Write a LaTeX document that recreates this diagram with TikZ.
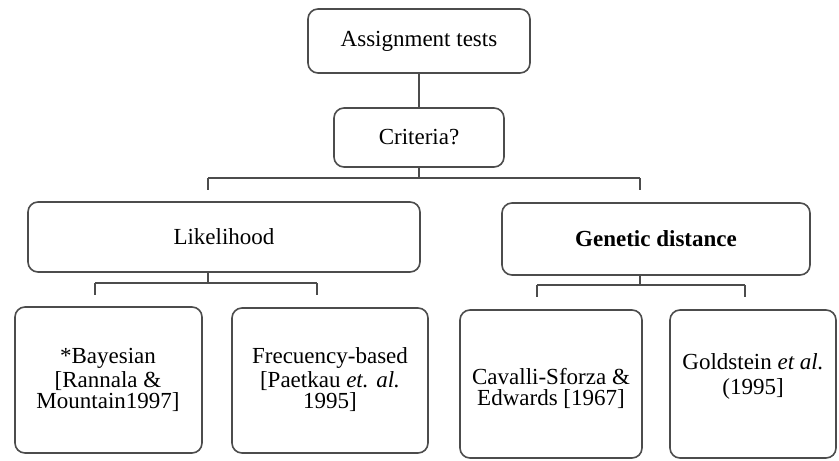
\documentclass[tikz,border=0pt]{standalone}
\usepackage{fontspec}
\setmainfont{Liberation Serif}
\usepackage{tikz}

\tikzset{
    box/.style={draw=black!70, line width=0.8pt, rounded corners=5pt, align=center, inner sep=0pt},
    lbl/.style={align=center, inner sep=1pt},
    conn/.style={draw=black!70, line width=0.8pt},
}

\begin{document}
\begin{tikzpicture}[x=0.5pt, y=-0.5pt, font=\fontsize{11.5}{10.5}\selectfont]
    \useasboundingbox (0,0) rectangle (839,460);
    % top levels
    \node[box, minimum width=111pt, minimum height=32pt] (assign) at (419,41) {Assignment tests};
    \node[box, minimum width=85pt, minimum height=29.5pt] (crit) at (419,137.5) {Criteria?};
    % second level
    \node[box, minimum width=196pt, minimum height=35pt] (lik) at (224,237) {Likelihood};
    \node[box, minimum width=154pt, minimum height=36pt] (gen) at (656,239) {\textbf{Genetic distance}};
    % leaves
    \node[box, minimum width=93.5pt, minimum height=73pt] (bay) at (108.5,380) {};
    \node[box, minimum width=98pt, minimum height=72.5pt] (freq) at (330,380.5) {};
    \node[box, minimum width=91pt, minimum height=74pt] (cav) at (551,384) {};
    \node[box, minimum width=83pt, minimum height=74pt] (gold) at (753,384) {};
    \node[lbl] (bayA) at (108,358) {*Bayesian};
    \node[lbl] (bayB) at (108,392) {[Rannala \&\\Mountain1997]};
    \node[lbl] (freqA) at (330,358) {Frecuency-based};
    \node[lbl] (freqB) at (330,392) {[Paetkau \textit{et. al.}\\1995]};
    \node[lbl] (cavA) at (551,388) {Cavalli-Sforza \&\\Edwards [1967]};
    \node[lbl] (goldA) at (753,376) {Goldstein \textit{et al.}\\[2pt](1995]};
    % connectors
    \coordinate (busL) at (208,178);
    \coordinate (busR) at (640,178);
    \coordinate (likL) at (95,283);
    \coordinate (likR) at (317,283);
    \coordinate (genL) at (537,285);
    \coordinate (genR) at (745,285);
    \draw[conn] (assign.south) -- (crit.north);
    \draw[conn] (crit.south) -- (crit.south |- busL);
    \draw[conn] (busL) -- (busR);
    \draw[conn] (busL) -- ++(0,12);
    \draw[conn] (busR) -- ++(0,12);
    \draw[conn] (lik.south -| busL) -- (busL |- likL);
    \draw[conn] (likL) -- (likR);
    \draw[conn] (likL) -- ++(0,12);
    \draw[conn] (likR) -- ++(0,12);
    \draw[conn] (gen.south -| busR) -- (busR |- genL);
    \draw[conn] (genL) -- (genR);
    \draw[conn] (genL) -- ++(0,12);
    \draw[conn] (genR) -- ++(0,12);
\end{tikzpicture}
\end{document}
